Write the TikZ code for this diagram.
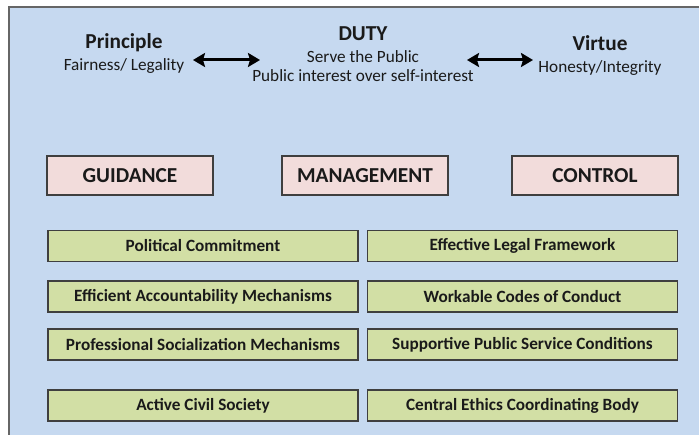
\documentclass[tikz,border=0pt]{standalone}
\usepackage{fontspec}
\setmainfont{Carlito}
\usepackage{xcolor}
\usepackage{tikz}
\usetikzlibrary{arrows.meta}

\definecolor{panelblue}{HTML}{C6D9F0}
\definecolor{pillarpink}{HTML}{F2DCDB}
\definecolor{measuregreen}{HTML}{D2DFA5}
\definecolor{boxline}{HTML}{3F3F3F}
\definecolor{inktext}{HTML}{1A1A1A}

\tikzset{
  heading/.style={anchor=base,text=inktext,font=\fontsize{21.3}{25}\selectfont\bfseries},
  subline/.style={anchor=base,text=inktext,font=\fontsize{17.2}{20}\selectfont},
  pillar/.style={draw=boxline,line width=1.3pt,fill=pillarpink,text=inktext,
    minimum width=166pt,minimum height=39pt,inner sep=0pt,
    font=\fontsize{21.3}{25}\selectfont\bfseries},
  measure/.style={draw=boxline,line width=1.3pt,fill=measuregreen,text=inktext,
    minimum width=310pt,minimum height=31pt,inner sep=0pt,
    font=\fontsize{17.2}{20}\selectfont\bfseries},
  twoway/.style={line width=3pt,{Stealth[length=12pt,width=14pt,inset=2pt]}-{Stealth[length=12pt,width=14pt,inset=2pt]}}
}

\begin{document}
\begin{tikzpicture}[x=1pt,y=-1pt]
\useasboundingbox (0,0) rectangle (699,435);

% panel
\fill[panelblue] (9,7) rectangle (699,435);
\draw[gray!80!black,line width=1.5pt] (9,435) -- (9,7) -- (699,7);

% top line
\node[heading] (principle) at (124,49) {Principle};
\node[subline] (fairness) at (124,71) {Fairness/ Legality};
\node[heading] (duty) at (363,41) {DUTY};
\node[subline] (serve) at (363,63) {Serve the Public};
\node[subline] (interest) at (363,82) {Public interest over self-interest};
\node[heading] (virtue) at (600,51) {Virtue};
\node[subline] (honesty) at (600,73) {Honesty/Integrity};

\coordinate (pd-left) at (193,60);
\coordinate (pd-right) at (260,60);
\coordinate (dv-left) at (467,60);
\coordinate (dv-right) at (533,60);

% three pillars
\node[pillar] (guidance) at (130,175.5) {GUIDANCE};
\node[pillar] (management) at (365,175.5) {MANAGEMENT};
\node[pillar] (control) at (595,175.5) {CONTROL};

% measures, two columns
\node[measure] (commitment) at (203,246) {Political Commitment};
\node[measure] (legal) at (522.5,246) {Effective Legal Framework};
\node[measure] (accountability) at (203,296.5) {Efficient Accountability Mechanisms};
\node[measure] (codes) at (522.5,296.5) {Workable Codes of Conduct};
\node[measure] (socialization) at (203,344.5) {Professional Socialization Mechanisms};
\node[measure] (conditions) at (522.5,344.5) {Supportive Public Service Conditions};
\node[measure] (society) at (203,405.5) {Active Civil Society};
\node[measure] (ethicsbody) at (522.5,405.5) {Central Ethics Coordinating Body};

%   arrows
\draw[twoway] (pd-left) -- (pd-right);
\draw[twoway] (dv-left) -- (dv-right);

\end{tikzpicture}
\end{document}
